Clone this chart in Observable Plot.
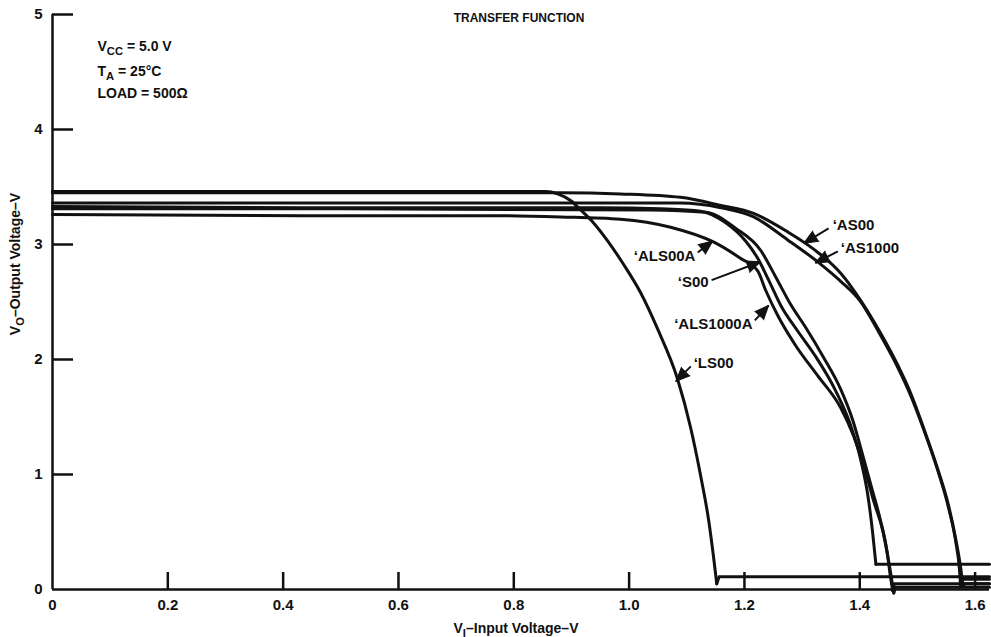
<!DOCTYPE html>
<html><head><meta charset="utf-8">
<script src="https://cdn.jsdelivr.net/npm/d3@7"></script>
<script src="https://cdn.jsdelivr.net/npm/@observablehq/plot@0.6"></script>
<style>body{margin:0;background:#fff;} svg{display:block}</style>
</head><body><div id="chart"></div>
<script>
// ---- axes ----
const xTicks = [0, 0.2, 0.4, 0.6, 0.8, 1.0, 1.2, 1.4, 1.6];
const xTickLabels = ["0", "0.2", "0.4", "0.6", "0.8", "1.0", "1.2", "1.4", "1.6"];
const yTicks = [0, 1, 2, 3, 4, 5];
const yTickLabels = ["0", "1", "2", "3", "4", "5"];

// ---- transfer curves (VI in V, VO in V) ----
const seriesNames = ["LS00", "ALS00A", "S00", "ALS1000A", "AS00", "AS1000"];

const ls00X = [0, 0.5, 0.855, 0.876, 0.899, 0.916, 0.938, 0.963, 0.990, 1.020, 1.049, 1.084, 1.107, 1.124, 1.138, 1.146, 1.152];
const ls00Y = [3.46, 3.46, 3.46, 3.44, 3.38, 3.30, 3.19, 3.03, 2.83, 2.58, 2.27, 1.83, 1.40, 0.99, 0.60, 0.30, 0.05];

const als00aX = [0, 0.5, 0.777, 0.881, 0.985, 1.072, 1.147, 1.193, 1.223, 1.237, 1.258, 1.289, 1.327, 1.367, 1.389, 1.407, 1.424, 1.440, 1.450, 1.459];
const als00aY = [3.26, 3.25, 3.25, 3.24, 3.22, 3.15, 3.02, 2.88, 2.77, 2.60, 2.38, 2.12, 1.86, 1.58, 1.34, 1.08, 0.77, 0.51, 0.25, -0.03];

const s00X = [0, 0.5, 0.951, 1.055, 1.124, 1.167, 1.202, 1.223, 1.242, 1.263, 1.292, 1.323, 1.358, 1.384, 1.402, 1.414, 1.422, 1.428];
const s00Y = [3.33, 3.32, 3.32, 3.31, 3.29, 3.19, 3.03, 2.88, 2.69, 2.47, 2.25, 2.03, 1.73, 1.43, 1.12, 0.82, 0.51, 0.22];

const als1000aX = [0, 0.5, 1.037, 1.133, 1.185, 1.228, 1.254, 1.280, 1.306, 1.337, 1.367, 1.388, 1.405, 1.422, 1.436, 1.447, 1.453, 1.457];
const als1000aY = [3.31, 3.31, 3.30, 3.28, 3.14, 2.95, 2.72, 2.48, 2.28, 2.02, 1.74, 1.47, 1.17, 0.86, 0.60, 0.34, 0.12, -0.01];

const as00X = [0, 0.5, 0.881, 0.985, 1.089, 1.159, 1.216, 1.275, 1.320, 1.367, 1.402, 1.436, 1.466, 1.488, 1.511, 1.535, 1.554, 1.566, 1.575, 1.579];
const as00Y = [3.45, 3.45, 3.45, 3.44, 3.41, 3.34, 3.27, 3.11, 2.96, 2.75, 2.51, 2.23, 1.95, 1.71, 1.40, 1.05, 0.73, 0.45, 0.19, 0.03];

const as1000X = [0, 0.5, 0.951, 1.089, 1.159, 1.216, 1.275, 1.332, 1.367, 1.402, 1.436, 1.466, 1.488, 1.511, 1.535, 1.554, 1.566, 1.573, 1.575];
const as1000Y = [3.36, 3.36, 3.36, 3.36, 3.32, 3.24, 3.04, 2.83, 2.68, 2.50, 2.21, 1.93, 1.69, 1.39, 1.04, 0.71, 0.43, 0.17, 0.03];

// low-state output level and the input voltage where it settles
const lowX = [1.156, 1.462, 1.430, 1.460, 1.582, 1.578];
const lowY = [0.11, 0.02, 0.22, 0.05, 0.05, 0.09];
const xEnd = 1.625;

// ---- annotations ----
const labelText = ["‘AS00", "‘AS1000", "‘LS00", "‘ALS00A", "‘S00", "‘ALS1000A"];
const labelAnchor = ["start", "start", "start", "end", "end", "end"];
const labelX = [1.353, 1.367, 1.112, 1.115, 1.138, 1.214];
const labelY = [3.17, 2.97, 1.97, 2.90, 2.67, 2.31];
const arrowX1 = [1.346, 1.362, 1.107, 1.119, 1.143, 1.218];
const arrowY1 = [3.14, 2.94, 1.94, 2.93, 2.69, 2.34];
const arrowX2 = [1.303, 1.323, 1.081, 1.145, 1.228, 1.242];
const arrowY2 = [3.01, 2.84, 1.81, 3.03, 2.85, 2.47];

const titleText = "TRANSFER FUNCTION";
const conditionLines = ["V_{CC} = 5.0 V", "T_{A} = 25°C", "LOAD = 500Ω"];
const xTitle = "V_{I}–Input Voltage–V";
const yTitle = "V_{O}–Output Voltage–V";

// ---- layout ----
const W = 991, H = 637, mL = 52, mR = 2, mT = 14, mB = 48;
const kx = (W - mL - mR) / xEnd;   // px per volt (x)
const ky = (H - mT - mB) / 5;      // px per volt (y)

// ---- build tables ----
const xs = [ls00X, als00aX, s00X, als1000aX, as00X, as1000X];
const ys = [ls00Y, als00aY, s00Y, als1000aY, as00Y, as1000Y];
const curveRows = [];
const tailRows = [];
seriesNames.forEach((name, k) => {
  xs[k].forEach((x, i) => curveRows.push({series: name, x, y: ys[k][i]}));
  const n = xs[k].length - 1;
  tailRows.push({series: name, x: xs[k][n], y: ys[k][n]});
  tailRows.push({series: name, x: lowX[k], y: lowY[k]});
  tailRows.push({series: name, x: xEnd, y: lowY[k]});
});
const labels = labelText.map((t, i) => {
  const dxp = (arrowX2[i] - arrowX1[i]) * kx, dyp = -(arrowY2[i] - arrowY1[i]) * ky;
  return {t, a: labelAnchor[i], x: labelX[i], y: labelY[i], x1: arrowX1[i], y1: arrowY1[i], x2: arrowX2[i], y2: arrowY2[i],
          rot: Math.atan2(dxp, -dyp) * 180 / Math.PI};
});

const ink = "#111";

const chart = Plot.plot({
  width: W, height: H,
  marginLeft: mL, marginRight: mR, marginTop: mT, marginBottom: mB,
  x: {domain: [0, xEnd]},
  y: {domain: [0, 5]},
  style: {fontFamily: "'Liberation Sans', Arial, sans-serif", fontWeight: "bold", fontSize: "15px", color: ink, background: "#fff"},
  marks: [
    Plot.axisX(xTicks, {tickSize: 0, tickPadding: 10, tickFormat: d => xTickLabels[xTicks.indexOf(d)], fontSize: 15, fontWeight: "bold", label: null}),
    Plot.axisY(yTicks, {tickSize: 0, tickPadding: 10, tickFormat: d => yTickLabels[yTicks.indexOf(d)], fontSize: 15, fontWeight: "bold", label: null}),
    Plot.ruleX([0], {stroke: ink, strokeWidth: 2.5}),
    Plot.ruleY([0], {stroke: ink, strokeWidth: 2.5}),
    Plot.tickX(xTicks.slice(1), {x: d => d, insetTop: 575 - 17, stroke: ink, strokeWidth: 2.5}),
    Plot.tickY(yTicks.slice(1), {y: d => d, insetRight: 937 - 21, stroke: ink, strokeWidth: 2.5}),
    Plot.line(curveRows, {x: "x", y: "y", z: "series", curve: "monotone-x", stroke: ink, strokeWidth: 3}),
    Plot.line(tailRows, {x: "x", y: "y", z: "series", stroke: ink, strokeWidth: 3}),
    Plot.link(labels, {x1: "x1", y1: "y1", x2: "x2", y2: "y2", stroke: ink, strokeWidth: 2}),
    Plot.vector(labels, {x: "x2", y: "y2", rotate: "rot", length: 14, r: 6, shape: "spike", anchor: "end", fill: ink, stroke: ink, strokeWidth: 1}),
    Plot.text(labels.filter(d => d.a === "start"), {x: "x", y: "y", text: "t", textAnchor: "start", fontSize: 15, fontWeight: "bold", fill: ink}),
    Plot.text(labels.filter(d => d.a === "end"), {x: "x", y: "y", text: "t", textAnchor: "end", fontSize: 15, fontWeight: "bold", fill: ink}),
    Plot.text([titleText], {text: d => d, frameAnchor: "top", dy: -1, dx: -2, fontSize: 12, fontWeight: "bold", fill: ink}),
    Plot.text([conditionLines[0]], {text: d => d, frameAnchor: "top-left", textAnchor: "start", dx: 45, dy: 27, fontSize: 14, fill: ink}),
    Plot.text([conditionLines[1]], {text: d => d, frameAnchor: "top-left", textAnchor: "start", dx: 45, dy: 52, fontSize: 14, fill: ink}),
    Plot.text([conditionLines[2]], {text: d => d, frameAnchor: "top-left", textAnchor: "start", dx: 45, dy: 74, fontSize: 14, fill: ink}),
    Plot.text([xTitle], {text: d => d, frameAnchor: "bottom", dy: 43, dx: -5, fontSize: 14, fill: ink}),
    Plot.text([yTitle], {text: d => d, frameAnchor: "left", textAnchor: "middle", rotate: -90, dx: -37, dy: -38, fontSize: 14, fill: ink})
  ]
});

// subscripts: turn _{..} into lowered tspans
d3.select(chart).selectAll("text").each(function () {
  const t = this.textContent;
  if (!/_\{/.test(t)) return;
  const sel = d3.select(this);
  sel.text(null);
  let shifted = false;
  for (const p of t.split(/(_\{[^}]*\})/)) {
    if (!p) continue;
    const m = p.match(/^_\{(.*)\}$/);
    if (m) { sel.append("tspan").attr("dy", 4).attr("font-size", "0.8em").text(m[1]); shifted = true; }
    else { const ts = sel.append("tspan").text(p); if (shifted) { ts.attr("dy", -4); shifted = false; } }
  }
});
document.getElementById("chart").appendChild(chart);
</script>
</body></html>
